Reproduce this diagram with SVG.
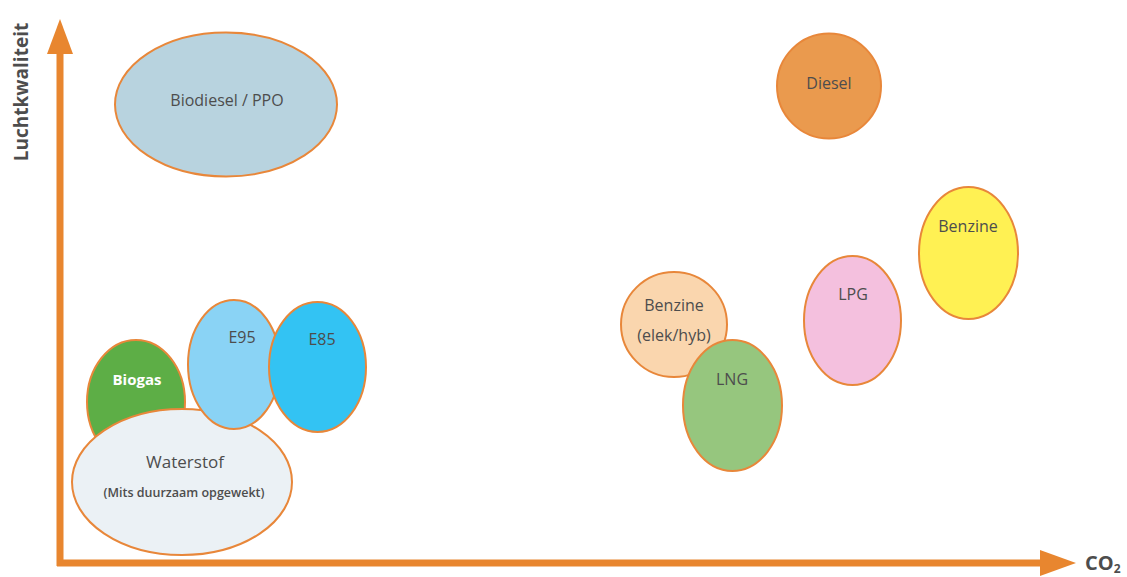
<svg xmlns="http://www.w3.org/2000/svg" width="1127" height="577" viewBox="0 0 1127 577">
<style>
.n{stroke:#E8873A;stroke-width:2}
.t{font-family:"Open Sans","Liberation Sans",sans-serif;font-size:16px;fill:#4D4D4D;text-anchor:middle;dominant-baseline:middle}
.ax{stroke:#E8862F;stroke-width:7;fill:none}
.ah{fill:#E8862F}
.lab{font-family:"Open Sans","Liberation Sans",sans-serif;font-weight:bold;fill:#4D4D4D}
</style>
<rect width="1127" height="577" fill="#FFFFFF"/>
<g id="connectors">
<line class="ax" x1="60" y1="566" x2="60" y2="48"/>
<polygon class="ah" points="60,19 47,54 73,54"/>
<line class="ax" x1="57" y1="563" x2="1045" y2="563"/>
<polygon class="ah" points="1076,563 1040,550 1040,576"/>
</g>
<g id="axis-y-label"><text class="lab" font-size="19" transform="translate(28,92) rotate(-90)" text-anchor="middle">Luchtkwaliteit</text></g>
<g id="axis-x-label"><text class="lab" font-size="20" x="1085" y="570">CO<tspan font-size="12" dy="3">2</tspan></text></g>
<g id="biodiesel"><ellipse class="n" cx="226" cy="104.5" rx="111" ry="72" fill="#B8D3DF"/><text class="t" x="227" y="102">Biodiesel / PPO</text></g>
<g id="diesel"><ellipse class="n" cx="829" cy="86" rx="52" ry="52.5" fill="#EA9A4E"/><text class="t" x="829" y="85">Diesel</text></g>
<g id="benzine"><ellipse class="n" cx="968.5" cy="253" rx="49.5" ry="66" fill="#FFF153"/><text class="t" x="968" y="228">Benzine</text></g>
<g id="lpg"><ellipse class="n" cx="852.5" cy="320.5" rx="48.5" ry="64.5" fill="#F4C0DE"/><text class="t" x="853" y="296">LPG</text></g>
<g id="benzine-hyb"><ellipse class="n" cx="674" cy="324.5" rx="53" ry="52.5" fill="#FAD6AE"/><text class="t" x="674" y="307">Benzine</text><text class="t" x="674" y="337">(elek/hyb)</text></g>
<g id="lng"><ellipse class="n" cx="732.5" cy="405.5" rx="49.5" ry="65.5" fill="#96C67E"/><text class="t" x="732" y="381">LNG</text></g>
<g id="biogas"><ellipse class="n" cx="136" cy="402" rx="49" ry="62" fill="#5DAE46"/><text class="t" x="137" y="381" style="fill:#FFFFFF;font-weight:bold;font-size:15px">Biogas</text></g>
<g id="waterstof"><ellipse class="n" cx="182" cy="482" rx="110" ry="73" fill="#EBF1F5"/><text class="t" x="185" y="463" style="font-size:17px">Waterstof</text><text class="t" x="184" y="494" style="font-size:12.5px;font-weight:600">(Mits duurzaam opgewekt)</text></g>
<g id="e95"><ellipse class="n" cx="234" cy="364.5" rx="46" ry="64.5" fill="#8AD3F5"/><text class="t" x="242" y="339">E95</text></g>
<g id="e85"><ellipse class="n" cx="317.5" cy="367" rx="48.5" ry="65" fill="#33C3F3"/><text class="t" x="322" y="341">E85</text></g>
</svg>
